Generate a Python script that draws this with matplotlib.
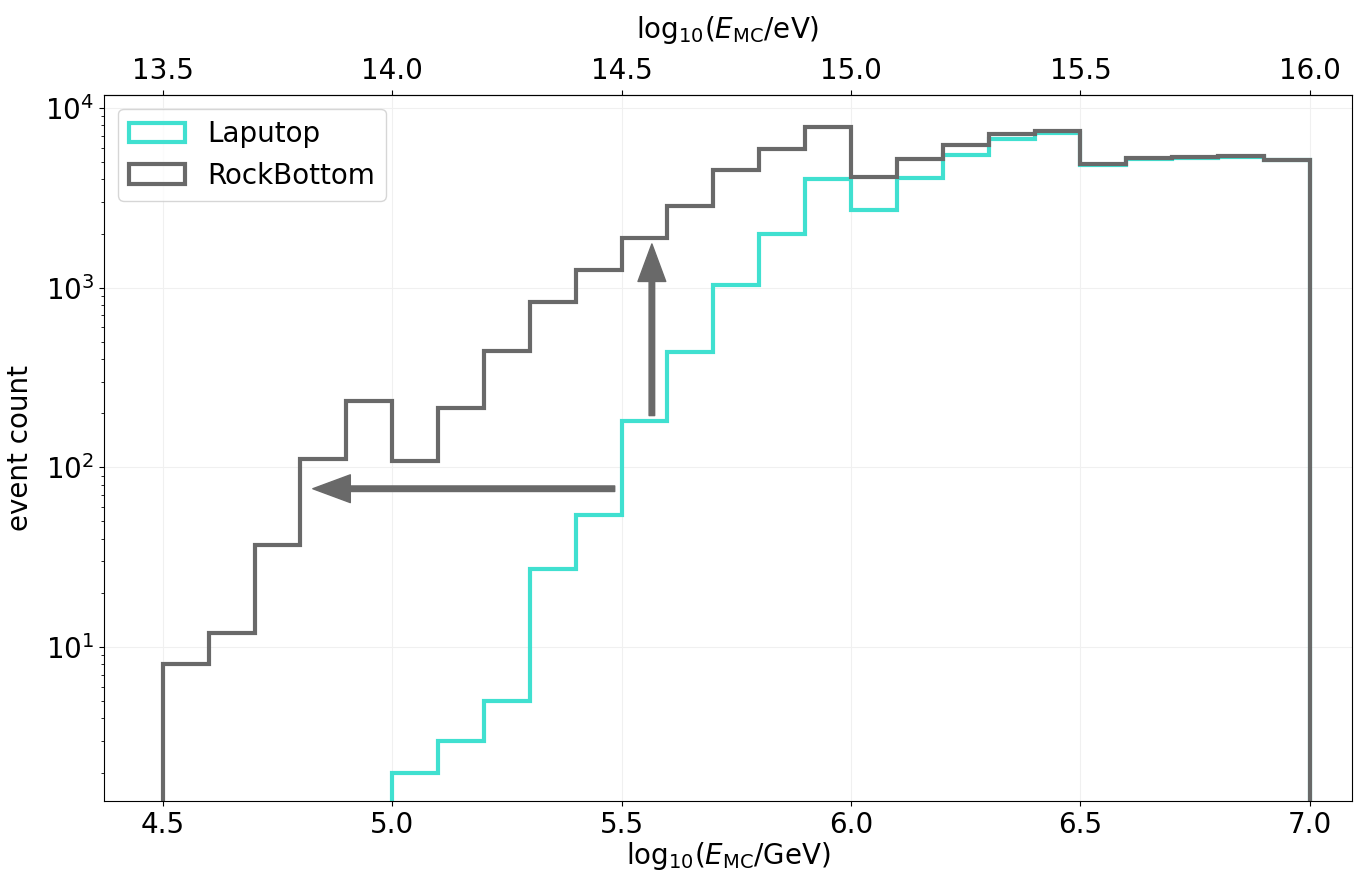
import numpy as np
import matplotlib
matplotlib.use("Agg")
import matplotlib.pyplot as plt

# bin edges in log10(E/GeV)
bin_edges = np.round(np.arange(4.5, 7.0001, 0.1), 2)

# counts per bin
laputop = [0, 0, 0, 0, 0,
           2, 3, 5, 27, 54,
           180, 440, 1030, 2000, 4000,
           2700, 4100, 5500, 6730, 7210,
           4790, 5200, 5250, 5350, 5100]
rockbottom = [8, 12, 37, 111, 234,
              109, 213, 445, 832, 1260,
              1890, 2840, 4490, 5940, 7820,
              4120, 5210, 6180, 7150, 7400,
              4860, 5240, 5300, 5370, 5120]

centers = 0.5 * (bin_edges[:-1] + bin_edges[1:])

fig = plt.figure(figsize=(13.55, 8.75), dpi=100)
ax = fig.add_axes([0.0768, 0.0846, 0.921, 0.8068])

ax.hist(centers, bins=bin_edges, weights=laputop, histtype='step',
        color='turquoise', linewidth=3, label='Laputop')
ax.hist(centers, bins=bin_edges, weights=rockbottom, histtype='step',
        color='dimgray', linewidth=3, label='RockBottom')

ax.set_yscale('log')
ax.set_xlim(4.372, 7.092)
ax.set_ylim(1.39, 11800)

# arrows
arrow_props = dict(facecolor='dimgray', edgecolor='dimgray', width=4,
                   headwidth=20, headlength=27, shrink=0)
ax.annotate('', xy=(5.566, 1750), xytext=(5.566, 194), arrowprops=arrow_props)
ax.annotate('', xy=(4.827, 76), xytext=(5.485, 76), arrowprops=arrow_props)

ax.grid(True, color='#f0f0f0', linewidth=0.8)
ax.set_axisbelow(True)

ax.set_xlabel(r'log$_{10}$($E_{\mathrm{MC}}$/GeV)', fontsize=20, labelpad=1)
ax.set_ylabel('event count', fontsize=20, labelpad=8)
ax.tick_params(labelsize=20)

top = ax.secondary_xaxis('top', functions=(lambda x: x + 9, lambda x: x - 9))
top.set_xticks([13.5, 14.0, 14.5, 15.0, 15.5, 16.0])
top.tick_params(labelsize=20)
top.set_xlabel(r'log$_{10}$($E_{\mathrm{MC}}$/eV)', fontsize=20, labelpad=14)

ax.legend(loc='upper left', fontsize=20)

fig.savefig('out.png', dpi=100)
